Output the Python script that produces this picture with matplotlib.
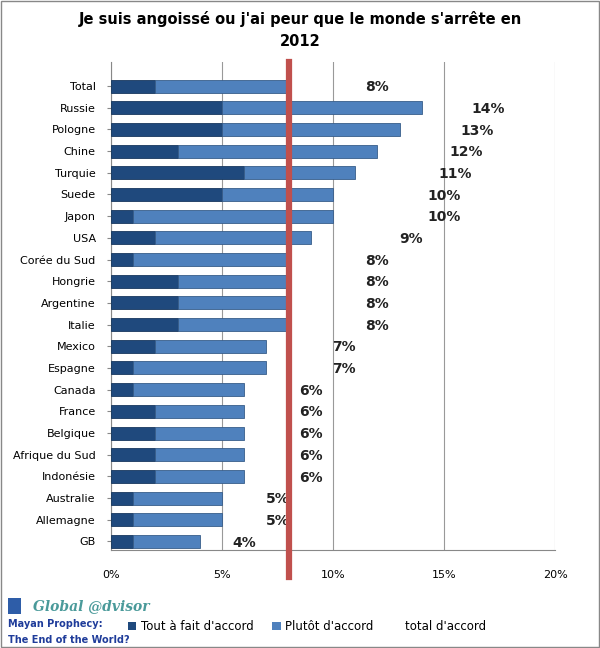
import matplotlib
matplotlib.use('Agg')
import matplotlib.pyplot as plt
from matplotlib.patches import Patch, Rectangle
import numpy as np

countries = ["Total", "Russie", "Pologne", "Chine", "Turquie", "Suede", "Japon", "USA",
             "Corée du Sud", "Hongrie", "Argentine", "Italie", "Mexico", "Espagne",
             "Canada", "France", "Belgique", "Afrique du Sud", "Indonésie",
             "Australie", "Allemagne", "GB"]
tout_a_fait = [2, 5, 5, 3, 6, 5, 1, 2, 1, 3, 3, 3, 2, 1, 1, 2, 2, 2, 2, 1, 1, 1]
total = [8, 14, 13, 12, 11, 10, 10, 9, 8, 8, 8, 8, 7, 7, 6, 6, 6, 6, 6, 5, 5, 4]
plutot = [t - d for t, d in zip(total, tout_a_fait)]
x_ticks = [0, 5, 10, 15, 20]
ref_line = 8

dark = '#1F497D'
light = '#4F81BD'
red = '#C0504D'

fig = plt.figure(figsize=(6, 6.48), dpi=100)
ax = fig.add_axes([0.185, 0.151, 0.74, 0.753])

y = np.arange(len(countries))
h = 0.6
ax.barh(y, tout_a_fait, height=h, color=dark, edgecolor='#17375E', linewidth=0.6, zorder=3)
ax.barh(y, plutot, left=tout_a_fait, height=h, color=light, edgecolor='#385D8A', linewidth=0.6, zorder=3)

# labels sit in the middle of the invisible "total d'accord" segment (clipped at 20%)
for yi, t in zip(y, total):
    xpos = (t + min(2 * t, x_ticks[-1])) / 2
    ax.text(xpos, yi + 0.05, f"{t}%", ha='center', va='center', fontsize=10,
            fontweight='bold', color='#222222', zorder=4)

ax.axvline(ref_line, ymin=-0.055, ymax=1.0, color=red, lw=4.5, clip_on=False, zorder=5)

ax.set_xlim(0, 20)
ax.set_ylim(len(countries) - 0.6, -1.1)
ax.set_xticks(x_ticks)
ax.set_xticklabels([f"{v}%" for v in x_ticks], fontsize=8)
ax.set_yticks(y)
ax.set_yticklabels(countries, fontsize=8)
ax.tick_params(axis='x', length=0, pad=14)
ax.tick_params(axis='y', length=3, color='#888888', pad=8)
ax.xaxis.grid(True, color='#999999', lw=0.8, zorder=0)
for s in ['top', 'right']:
    ax.spines[s].set_visible(False)
ax.spines['left'].set_color('#888888')
ax.spines['bottom'].set_color('#888888')

fig.text(0.5, 0.983, "Je suis angoissé ou j'ai peur que le monde s'arrête en\n2012",
         ha='center', va='top', fontsize=10.5, fontweight='bold', linespacing=1.55)

handles = [Patch(facecolor=dark), Patch(facecolor=light), Patch(facecolor='none', edgecolor='none')]
fig.legend(handles, ["Tout à fait d'accord", "Plutôt d'accord", "total d'accord"],
           loc='center left', bbox_to_anchor=(0.195, 0.033), ncol=3, frameon=False,
           fontsize=8.5, handlelength=0.7, handleheight=0.7, columnspacing=1.6, handletextpad=0.4)

fig.patches.append(Rectangle((0.013, 0.052), 0.022, 0.025, transform=fig.transFigure,
                             facecolor='#2E5DA8', edgecolor='none'))
fig.text(0.055, 0.064, "Global @dvisor", fontsize=10, style='italic', fontweight='bold',
         color='#4A9A9A', family='DejaVu Serif', va='center')
fig.text(0.013, 0.037, "Mayan Prophecy:", fontsize=7, fontweight='bold', color='#1F3C9A', va='center')
fig.text(0.013, 0.013, "The End of the World?", fontsize=7, fontweight='bold', color='#1F3C9A', va='center')

fig.patches.append(Rectangle((0.002, 0.002), 0.996, 0.996, transform=fig.transFigure,
                             facecolor='none', edgecolor='#888888', lw=1))

fig.savefig('out.png', dpi=100)
